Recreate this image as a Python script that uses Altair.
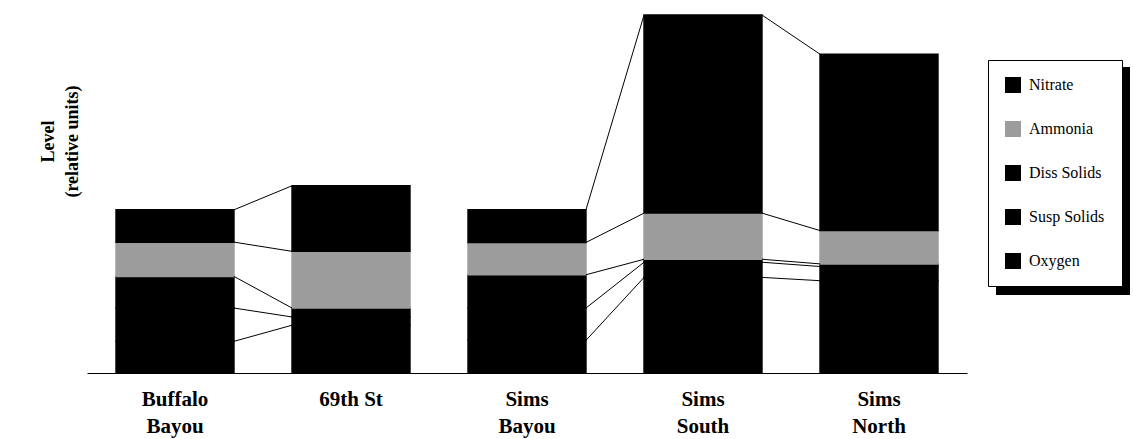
import altair as alt
import pandas as pd

# ---- data (relative units) ----
sites = ["Buffalo Bayou", "69th St", "Sims Bayou", "Sims South", "Sims North"]
legend_order = ["Nitrate", "Ammonia", "Diss Solids", "Susp Solids", "Oxygen"]
stack_order = ["Oxygen", "Susp Solids", "Diss Solids", "Ammonia", "Nitrate"]

oxygen = [0.96, 1.45, 0.99, 2.90, 2.80]
susp_solids = [1.01, 0.25, 0.98, 0.46, 0.43]
diss_solids = [0.96, 0.27, 1.01, 0.09, 0.08]
ammonia = [1.04, 1.72, 0.98, 1.40, 1.01]
nitrate = [0.98, 1.99, 0.99, 6.01, 5.35]

series_colors = ["#000000", "#9c9c9c", "#000000", "#000000", "#000000"]
connected_pairs = [(0, 1), (2, 3), (3, 4)]

values = {
    "Oxygen": oxygen,
    "Susp Solids": susp_solids,
    "Diss Solids": diss_solids,
    "Ammonia": ammonia,
    "Nitrate": nitrate,
}

rows = []
tops = {}
for i, site in enumerate(sites):
    cum = 0.0
    for k, s in enumerate(stack_order):
        v = values[s][i]
        rows.append({"site": site, "series": s, "lo": cum, "hi": cum + v, "ord": k})
        cum += v
        tops[(i, s)] = cum
bars_df = pd.DataFrame(rows)

links = []
for a, b in connected_pairs:
    for s in stack_order:
        links.append({"src": sites[a], "dst": sites[b], "ya": tops[(a, s)], "yb": tops[(b, s)]})
links_df = pd.DataFrame(links)

FONT = "Liberation Serif"
ymax = max(sum(values[s][i] for s in stack_order) for i in range(len(sites)))

xscale = alt.Scale(domain=sites, paddingInner=0.33, paddingOuter=0.165)
yscale = alt.Scale(domain=[0, ymax], nice=False, zero=True)
cscale = alt.Scale(domain=legend_order, range=series_colors)

xaxis = alt.Axis(
    title=None, ticks=False, domainColor="black", domainWidth=1,
    labelAngle=0, labelFont=FONT, labelFontWeight="bold", labelFontSize=21,
    labelColor="black", labelPadding=15, labelLineHeight=27,
    labelExpr="datum.label == '69th St' ? datum.label : split(datum.label, ' ')",
)
yaxis = alt.Axis(
    title=["Level", "(relative units)"], domain=False, ticks=False, labels=False, grid=False,
    titleFont=FONT, titleFontWeight="bold", titleFontSize=18, titleColor="black",
    titleAngle=270, titleAlign="center", titleBaseline="middle",
    titleLineHeight=24, titleX=-39, titleY=126,
)

bars = alt.Chart(bars_df).mark_bar(strokeWidth=1.5).encode(
    x=alt.X("site:N", scale=xscale, axis=xaxis, sort=sites),
    y=alt.Y("lo:Q", scale=yscale, axis=yaxis),
    y2="hi:Q",
    color=alt.Color(
        "series:N",
        scale=cscale,
        legend=alt.Legend(
            title=None, orient="none", legendX=901, legendY=45,
            padding=17, strokeColor="black", fillColor="white",
            symbolType="square", symbolSize=256, symbolStrokeWidth=0,
            labelFont=FONT, labelFontSize=16, labelColor="black",
            rowPadding=28, labelOffset=8,
        ),
    ),
    stroke=alt.Stroke("series:N", scale=cscale, legend=None),
    order=alt.Order("ord:Q"),
)

lines = alt.Chart(links_df).mark_rule(color="black", strokeWidth=1).encode(
    x=alt.X("src:N", scale=xscale, axis=xaxis, bandPosition=1),
    x2=alt.X2("dst:N", bandPosition=0),
    y=alt.Y("ya:Q", scale=yscale, axis=yaxis),
    y2="yb:Q",
)

shadow = alt.Chart(pd.DataFrame({"k": [0]})).mark_rect(color="black").encode(
    x=alt.value(909), x2=alt.value(1043), y=alt.value(52), y2=alt.value(280)
)

chart = alt.layer(shadow, bars, lines).properties(
    width=880, height=358,
    autosize=alt.AutoSizeParams(type="none"),
    padding={"left": 87, "top": 15, "right": 166, "bottom": 66},
    background="white",
).configure_view(stroke=None)

chart.save("out.html", embed_options={"renderer": "svg", "actions": False})
